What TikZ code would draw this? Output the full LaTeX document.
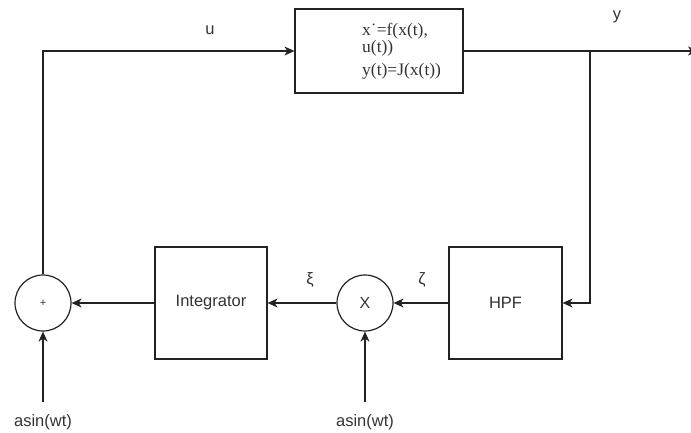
\documentclass[tikz,border=0pt]{standalone}
\usepackage{fontspec}
\setmainfont{Liberation Sans}
\newfontfamily\eqfont{Liberation Serif}
\usetikzlibrary{arrows.meta}
\definecolor{linec}{HTML}{222222}
\definecolor{txtc}{HTML}{333333}
\tikzset{
  blk/.style={draw=linec, line width=1.2pt, rectangle, inner sep=0pt},
  junc/.style={draw=linec, line width=1.2pt, circle, minimum size=56pt, inner sep=0pt, text=txtc, font=\fontsize{16}{18}\selectfont},
  arr/.style={draw=linec, line width=1.2pt, -{Stealth[length=10pt,width=9pt,inset=3pt]}},
  lbl/.style={text=txtc, font=\fontsize{16.5}{18}\selectfont, inner sep=0pt},
  eqtxt/.style={text=txtc, font=\eqfont\fontsize{17.5}{13}\selectfont, inner sep=0pt, anchor=base west}
}
\begin{document}
\begin{tikzpicture}[x=1pt,y=-1pt]
\useasboundingbox (0,0) rectangle (691,433);
% blocks
\node[blk, minimum width=168pt, minimum height=84pt] (sys) at (379,51) {};
\node[eqtxt] (eq1) at (362,36) {x˙=f(x(t),};
\node[eqtxt] (eq2) at (362,52.5) {u(t))};
\node[eqtxt] (eq3) at (362,76) {y(t)=J(x(t))};
\node[blk, minimum width=112pt, minimum height=112pt, lbl] (integ) at (211,303) {Integrator};
\node[blk, minimum width=113pt, minimum height=112pt, lbl] (hpf) at (505.5,303) {HPF};
\node[junc] (sum) at (43,303) {\fontsize{11}{12}\selectfont +};
\node[junc] (mult) at (365,303) {X};
% coordinates
\coordinate (a1) at (43,402);
\coordinate (a2) at (365,402);
\coordinate (br) at (590,51);
\coordinate (out) at (698,51);
% labels
\node[lbl] (asin1) at (43,422) {asin(wt)};
\node[lbl] (asin2) at (365,422) {asin(wt)};
\node[lbl] (ulbl) at (210,30) {u};
\node[lbl] (ylbl) at (617,17) {y};
\node[lbl] (xilbl) at (310,280) {ξ};
\node[lbl] (zetalbl) at (422,280) {ζ};
% connectors
\draw[arr] (sum.north) |- (sys.west);
\draw[arr] (sys.east) -- (out);
\draw[arr] (br) |- (hpf.east);
\draw[arr] (hpf.west) -- (mult.east);
\draw[arr] (mult.west) -- (integ.east);
\draw[arr] (integ.west) -- (sum.east);
\draw[arr] (a1) -- (sum.south);
\draw[arr] (a2) -- (mult.south);
\end{tikzpicture}
\end{document}
